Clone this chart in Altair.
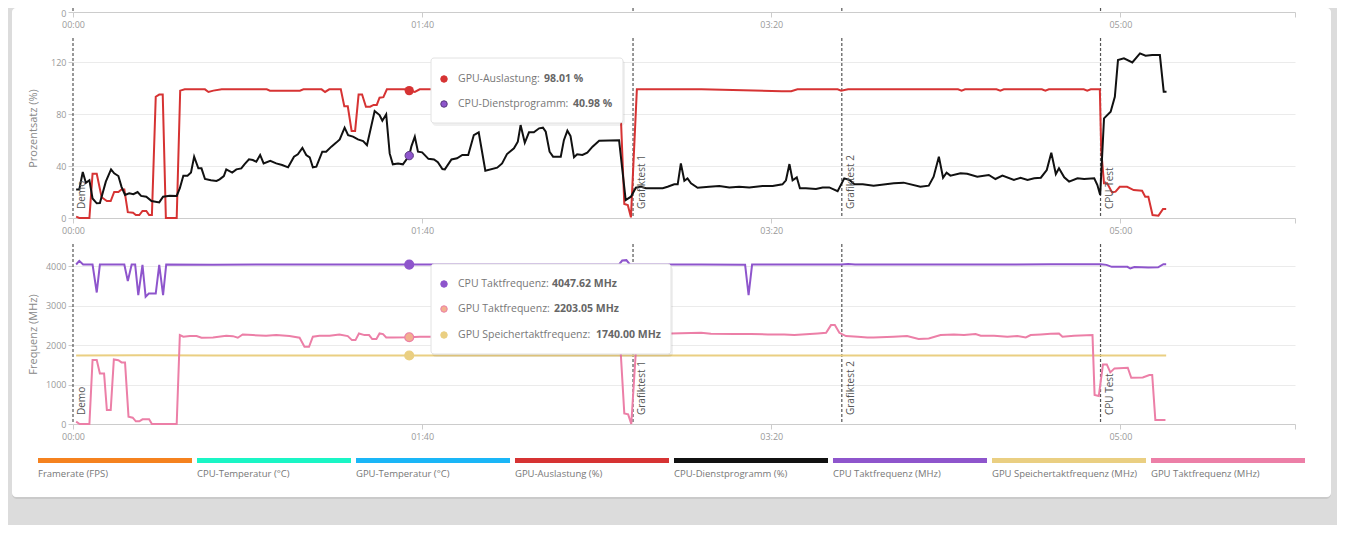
import altair as alt
import pandas as pd

FONT = "Open Sans"

# ---------------- data ----------------
series_names = ["Framerate (FPS)", "CPU-Temperatur (°C)", "GPU-Temperatur (°C)", "GPU-Auslastung (%)",
                "CPU-Dienstprogramm (%)", "CPU Taktfrequenz (MHz)", "GPU Speichertaktfrequenz (MHz)",
                "GPU Taktfrequenz (MHz)"]
series_colors = ["#f5821f", "#1af5c5", "#1ab6f7", "#d63333", "#111111", "#8e55cc", "#eacf82", "#ec7fa7"]

event_t = [0.0, 160.4, 220.2, 294.3]
event_label = ["Demo", "Grafiktest 1", "Grafiktest 2", "CPU Test"]

x_ticks = [0, 100, 200, 300, 350]
pct_grid = [0, 20, 40, 60, 80, 100, 120]
mhz_grid = [0, 500, 1000, 1500, 2000, 2500, 3000, 3500, 4000, 4500]

gpu_util_t = [0.9, 1.8, 4.7, 5.6, 6.8, 8.2, 9.7, 10.8, 11.8, 13, 13.9, 14.7, 15.7, 17.2, 18, 19, 19.9, 21, 21.8,
              22.6, 23.7, 24.7, 25.7, 26.6, 29.7, 30.7, 32, 37.8, 38.8, 40.2, 42.6, 55.5, 56.4, 65, 66, 71.2, 72.2,
              73.4, 76.7, 77.7, 78.7, 79.8, 80.8, 81.8, 82.8, 83.9, 85.1, 86.1, 87, 87.8, 88.9, 89.9, 95, 96.3,
              97.9, 99.3, 115, 130, 145, 156.6, 157.9, 158.9, 159.8, 161.5, 180, 203, 205.7, 207.5, 219, 220, 222,
              253.5, 254.5, 255.5, 264.5, 265.6, 266.6, 277.5, 278.5, 279.5, 289.5, 290.5, 291.5, 294.1, 294.5,
              295.3, 296.2, 297.6, 298.6, 299.8, 301.9, 303.8, 306.2, 307.1, 308, 309.2, 310.9, 312.2, 313.1]
gpu_util_v = [1, 0, 0, 34, 34, 16, 13, 13, 20, 20, 22, 22, 4.5, 4, 2.3, 2.3, 5.4, 5.4, 2.3,
              2.3, 93.3, 95, 95, 0, 0, 98, 99, 99, 97, 98, 99, 99, 98, 98, 99, 99, 97,
              99, 99, 86, 86, 67, 67, 95, 95, 85.6, 85.6, 87, 87, 92.6, 93, 99, 99, 98.01,
              97, 99, 99, 98.5, 99, 99, 10.8, 10, 0.5, 99, 99, 97.5, 97.5, 99, 99, 98, 99,
              99, 98, 99, 99, 98, 99, 99, 98, 99, 99, 98, 99, 99, 52,
              26.7, 26.7, 19.7, 20.3, 24, 24, 21.5, 21, 16.4, 16.4, 2.3, 1.8, 6.9, 6.9]

cpu_util_t = [0.9, 1.8, 2.8, 3.7, 4.7, 5.6, 6.8, 7.7, 9.4, 10.9, 11.8, 13, 13.9, 14.9, 16.1, 17.3, 18.5, 19.5, 21,
              22.5, 24.7, 25.8, 27.7, 29.7, 30.6, 31.6, 32.8, 33.8, 34.7, 35.9, 36.8, 37.8, 39.5, 41.1, 42, 43.2,
              43.9, 45.6, 46.8, 48.2, 49.1, 50.4, 51.5, 52.5, 53.6, 54.6, 56.5, 58.2, 59.9, 61.6, 63.3, 64.4, 65.7,
              66.8, 67.8, 68.7, 69.7, 71.4, 72.5, 74, 75.4, 76.4, 77.8, 78.8, 80.2, 81.6, 83.1, 84.2, 86.4, 87.8,
              88.6, 89.7, 90.7, 91.6, 93.1, 94.5, 96.3, 96.9, 97.9, 98.8, 100, 101.8, 103.4, 104.5, 105.8, 106.5,
              108.4, 110, 111.5, 113.2, 114.8, 116.2, 118.1, 121.5, 122.9, 124.3, 126.3, 127.4, 128.2, 129.4,
              130.6, 132, 133.5, 134.6, 135.4, 136.5, 137.5, 139.7, 140.6, 141.6, 142.5, 143.5, 144.4, 145.9,
              147.3, 148.8, 150.7, 156.4, 158.3, 159.8, 161.2, 162.7, 164.1, 168.9, 170.3, 172.2, 173.2, 174.1,
              175.1, 176, 177, 178.9, 182.2, 185.1, 188, 190.8, 193.7, 197.5, 200.4, 203.2, 204.2, 205.2, 206.1,
              207.3, 208.2, 209.9, 212.8, 214.7, 216.6, 219, 220.9, 222.4, 223.8, 226.2, 229.3, 235.1, 237.9,
              242.7, 245.1, 246.5, 248, 249.2, 250.2, 251.3, 254.2, 256.1, 259, 262.3, 264.2, 266.2, 269.5,
              271.4, 273.4, 275.3, 277.2, 278.9, 280.2, 281.5, 282.4, 283.9, 285.3, 287.7, 289.6, 292.5, 293.4,
              294.2, 295.3, 297.2, 298.4, 299.3, 301, 303.4, 305.6, 307.2, 309.1, 311.3, 312.4, 313.2]
cpu_util_v = [22, 22, 35.4, 27, 29, 15, 11.3, 11.5, 28, 37.4, 34.4, 32.3, 24, 17.7, 19, 18.3, 20, 17, 16.4,
              13, 12, 16.4, 17.2, 17, 22.9, 32.6, 32.6, 35, 47.2, 38.2, 38.2, 30, 29, 28.5, 29.7, 32.3,
              37.4, 35, 37.4, 38.2, 41.3, 45.1, 44.6, 43.3, 48.5, 42, 44, 42, 40.8, 39, 47.2, 49, 54,
              48.5, 46.7, 39, 39.5, 51, 51, 54.9, 58, 60.5, 69.5, 63.8, 62.6, 60.5, 59.2, 56, 82.3, 79.2,
              74.9, 79.7, 49.7, 41.3, 42, 41.3, 48, 54.9, 62.6, 51, 50.5, 45.5, 45, 43, 37.7, 37.4,
              45, 45.9, 48.5, 48.5, 63.8, 65.9, 36.4, 38.7, 42, 49.2, 53.6, 58.7, 71.5, 57.9,
              65.9, 65.9, 69, 69.5, 66.4, 51, 47.2, 47.2, 59.9, 67.2, 63, 46.7, 49, 48.5,
              50.3, 54.9, 59.5, 59.9, 13.8, 16.4, 23.3, 24, 22.9, 22.9, 24, 25.9, 25.9, 42,
              28.7, 30.5, 26.7, 23.3, 24, 24.6, 23.5, 24, 23.5, 24.6, 24.6, 25.9, 29, 41.5, 29,
              31.3, 22.9, 22.9, 22.3, 23.5, 23.5, 20.6, 30.5, 29.3, 25.9, 25.9, 24.9, 26.7, 27.2,
              24, 24.9, 31.8, 47.2, 31, 34.9, 32.6, 34.4, 34, 31.8, 33.1, 30, 32.6, 29.3,
              31, 29.3, 30.5, 31, 36.9, 50.3, 33.8, 38.2, 31.3, 28, 30.5, 30, 30.5, 25.4,
              17.7, 76.7, 81.8, 93.3, 121.5, 122.8, 119.7, 126.7, 124.9, 125.4, 125.4, 97.2, 97.2]

cpu_clock_t = [0.9, 1.8, 2.9, 5.6, 6.8, 7.7, 14.7, 15.7, 16.8, 17.8, 18.7, 19.9, 20.8, 21.7, 23.7, 24.7, 25.8,
               26.7, 40, 60, 80, 96.3, 120, 150, 156.4, 157.3, 158.5, 159.5, 180, 192.5, 193.5, 194.5, 220, 222,
               224, 260, 280, 294.4, 296, 297.5, 300, 302, 302.8, 304, 308, 310.8, 312.3, 313.1]
cpu_clock_v = [4049, 4142, 4049, 4049, 3339, 4049, 4049, 3627, 4049, 4049, 3271, 4040, 3229, 3313, 3313, 4040, 3271,
               4049, 4045, 4052, 4047, 4047.62, 4050, 4048, 4050, 4150, 4160, 4050, 4047, 4045, 3271, 4047, 4049, 4060,
               4047, 4050, 4055, 4055, 4040, 3990, 3995, 3990, 3948, 3985, 3973, 3980, 4058, 4058]

gpu_clock_t = [0.9, 1.9, 4.7, 5.6, 6.8, 7.7, 8.9, 9.7, 10.8, 11.7, 13, 13.9, 14.9, 15.9, 17.1, 18, 19, 19.9, 21.8,
               22.6, 29.7, 30.6, 31.6, 33.5, 35.4, 36.8, 40.1, 43.9, 45.8, 47.2, 48.6, 51.5, 55.3, 58.2, 62, 64.9,
               66.3, 67.6, 68.7, 70.6, 73.5, 76.3, 78.7, 79.9, 80.9, 81.9, 83.5, 84.8, 85.7, 86.9, 87.8, 88.8, 89.7,
               91.6, 96.3, 99.3, 102.2, 110, 130, 150, 156.6, 157.9, 159, 159.9, 161.5, 165, 171.2, 179.9, 182.7,
               189.4, 194.2, 199, 203.7, 206.6, 213.3, 215.7, 217.1, 218.2, 219.5, 221.4, 224.8, 227.5, 229.3, 235,
               238.9, 242.2, 245.1, 248.5, 252.3, 255.2, 258.5, 260, 263.8, 267.6, 270.5, 272.9, 274.3, 277.2, 280,
               282.4, 283.4, 286.7, 292, 292.6, 293.8, 295, 296.1, 297.1, 298.3, 302.1, 303.1, 306.4, 308.3, 309.1,
               310, 312.9]
gpu_clock_v = [59, 0, 0, 1623, 1623, 1285, 1285, 355, 355, 1640, 1620, 1564, 1564, 186, 160, 68, 68, 118, 118,
               0, 0, 2257, 2215, 2232, 2232, 2190, 2198, 2240, 2230, 2190, 2274, 2257, 2240, 2257, 2232, 2190,
               1961, 1961, 2215, 2240, 2240, 2274, 2232, 2130, 2130, 2299, 2257, 2257, 2156, 2156, 2299, 2282, 2198,
               2198, 2203.05, 2215, 2215, 2230, 2220, 2225, 2230, 270, 245, 0, 2250, 2290, 2299, 2316, 2290,
               2282, 2282, 2274, 2274, 2257, 2299, 2316, 2511, 2511, 2316, 2232, 2215, 2198, 2198, 2215,
               2232, 2156, 2173, 2257, 2274, 2257, 2282, 2240, 2240, 2215, 2232, 2198, 2257, 2274, 2290,
               2299, 2215, 2240, 2257, 735, 710, 1513, 1513, 1310, 1412, 1428, 1175, 1180, 1243, 1243,
               101, 101]

mem_clock_t = [0.9, 20, 40, 60, 96.3, 140, 180, 220, 260, 300, 313.1]
mem_clock_v = [1740, 1745, 1738, 1742, 1740, 1740, 1742, 1738, 1741, 1738, 1740]

hover_t = 96.3
hover_pct = [98.01, 48.0]            # GPU-Auslastung, CPU-Dienstprogramm (marker positions)
hover_mhz = [4047.62, 2203.05, 1740.0]

tip1_labels = ["GPU-Auslastung:", "CPU-Dienstprogramm:"]
tip1_values = ["98.01 %", "40.98 %"]
tip2_labels = ["CPU Taktfrequenz:", "GPU Taktfrequenz:", "GPU Speichertaktfrequenz:"]
tip2_values = ["4047.62 MHz", "2203.05 MHz", "1740.00 MHz"]

# ---------------- geometry / style ----------------
W = 1222
H_TOP = 2
H_MID = 180
H_BOT = 180
H_LEG = 40
SPACING = 26

MMSS = ("datum.value > 340 ? '' : "
        "(floor(datum.value/60) < 10 ? '0' : '') + floor(datum.value/60) + ':' + "
        "(datum.value % 60 < 10 ? '0' : '') + (datum.value % 60)")
XS = alt.Scale(domain=[0, 350], nice=False, zero=False)
COLOR = alt.Color("series:N", scale=alt.Scale(domain=series_names, range=series_colors), legend=None)


def x_axis(**kw):
    return alt.Axis(values=x_ticks, labelExpr=MMSS, grid=False, domainColor="#cccccc", tickColor="#cccccc",
                    tickSize=5, labelColor="#999999", labelFont=FONT, labelFontSize=9, labelPadding=3,
                    labelFlush=False, title=None, **kw)


def y_axis(grid_vals, step, title, h):
    test = f"datum.value % {step} === 0"
    return alt.Axis(values=grid_vals, grid=True, gridColor="#ebebeb", domain=False,
                    tickColor={"condition": {"test": test, "value": "#cccccc"}, "value": "transparent"},
                    labelExpr=f"{test} ? datum.label : ''", format="d", tickSize=5, labelPadding=2,
                    labelColor="#999999", labelFont=FONT, labelFontSize=9, labelFlush=False,
                    title=title, titleX=-40, titleY=h / 2, titleAngle=270, titleAlign="center",
                    titleBaseline="middle", titleColor="#888888", titleFont=FONT, titleFontSize=11,
                    titleFontWeight="normal")


def frame(name, ts, vs):
    return pd.DataFrame({"t": ts, "v": vs, "series": name})


one = pd.DataFrame({"a": [1]})
events = pd.DataFrame({"t": event_t, "label": event_label})


def event_layers(h):
    rules = alt.Chart(events).mark_rule(color="#555555", strokeDash=[3, 2], strokeWidth=1.2).encode(
        x=alt.X("t:Q", scale=XS))
    texts = alt.Chart(events).mark_text(angle=270, align="left", baseline="top", dy=4, font=FONT,
                                        fontSize=10, color="#555555").encode(
        x=alt.X("t:Q", scale=XS), y=alt.value(h - 9), text="label:N")
    return [rules, texts]


def tooltip_layers(box, row_y, labels, values, value_x, fills, strokes):
    x0, y0, x1, y1 = box
    layers = [
        alt.Chart(one).mark_rect(fill="#000000", opacity=0.06, cornerRadius=4).encode(
            x=alt.value(x0 + 1), x2=alt.value(x1 + 2), y=alt.value(y0 + 2), y2=alt.value(y1 + 3)),
        alt.Chart(one).mark_rect(fill="white", stroke="#e2e2e2", strokeWidth=1, cornerRadius=3).encode(
            x=alt.value(x0), x2=alt.value(x1), y=alt.value(y0), y2=alt.value(y1)),
    ]
    for i in range(len(labels)):
        layers.append(alt.Chart(one).mark_circle(size=42, opacity=1, fill=fills[i], stroke=strokes[i],
                                                 strokeWidth=1).encode(x=alt.value(x0 + 13), y=alt.value(row_y[i])))
        layers.append(alt.Chart(one).mark_text(text=labels[i], align="left", baseline="middle", font=FONT,
                                               fontSize=10.5, color="#777777").encode(
            x=alt.value(x0 + 27), y=alt.value(row_y[i])))
        layers.append(alt.Chart(one).mark_text(text=values[i], align="left", baseline="middle", font=FONT,
                                               fontSize=10.5, fontWeight="bold", color="#666666").encode(
            x=alt.value(value_x[i]), y=alt.value(row_y[i])))
    return layers


# ---------------- top (cut-off) panel with white card ----------------
top_dummy = pd.DataFrame({"t": [0], "v": [0]})
card_shadow = alt.Chart(one).mark_rect(fill="#000000", opacity=0.08, cornerRadius=5).encode(
    x=alt.value(-61), x2=alt.value(1258), y=alt.value(0), y2=alt.value(489))
card = alt.Chart(one).mark_rect(fill="white", cornerRadius=4).encode(
    x=alt.value(-61), x2=alt.value(1258), y=alt.value(-2), y2=alt.value(487))
top_axes = alt.Chart(top_dummy).mark_point(opacity=0).encode(
    x=alt.X("t:Q", scale=XS, axis=x_axis(zindex=1)),
    y=alt.Y("v:Q", scale=alt.Scale(domain=[0, 1], nice=False),
            axis=alt.Axis(values=[0], grid=False, domain=False, tickColor="#cccccc", tickSize=5, labelPadding=2,
                          labelColor="#999999", labelFont=FONT, labelFontSize=9, labelOffset=1, title=None,
                          labelFlush=False, zindex=1)))
top_rules = alt.Chart(events).mark_rule(color="#555555", strokeDash=[3, 2], strokeWidth=1.2).encode(
    x=alt.X("t:Q", scale=XS), y=alt.value(-2), y2=alt.value(H_TOP))
top = alt.layer(card_shadow, card, top_axes, top_rules).properties(width=W, height=H_TOP)

# ---------------- middle panel (percent) ----------------
YP = alt.Scale(domain=[0, 138.5], nice=False)
red = alt.Chart(frame("GPU-Auslastung (%)", gpu_util_t, gpu_util_v)).mark_line(strokeWidth=2).encode(
    x=alt.X("t:Q", scale=XS, axis=x_axis()),
    y=alt.Y("v:Q", scale=YP, axis=y_axis(pct_grid, 40, "Prozentsatz (%)", H_MID)), color=COLOR)
black = alt.Chart(frame("CPU-Dienstprogramm (%)", cpu_util_t, cpu_util_v)).mark_line(strokeWidth=2).encode(
    x=alt.X("t:Q", scale=XS), y=alt.Y("v:Q", scale=YP), color=COLOR)
hp = pd.DataFrame({"t": [hover_t, hover_t], "v": hover_pct})
hover_red = alt.Chart(hp.iloc[[0]]).mark_circle(size=85, opacity=1, color="#d63333").encode(
    x=alt.X("t:Q", scale=XS), y=alt.Y("v:Q", scale=YP))
hover_cpu = alt.Chart(hp.iloc[[1]]).mark_circle(size=70, opacity=1, fill="#8e55cc", stroke="#5a3a80",
                                                 strokeWidth=1).encode(
    x=alt.X("t:Q", scale=XS), y=alt.Y("v:Q", scale=YP))
mid = alt.layer(
    event_layers(H_MID)[0], red, black, event_layers(H_MID)[1], hover_red, hover_cpu,
    *tooltip_layers((358, 20, 550, 85), [41, 66], tip1_labels, tip1_values, [471, 500],
                    ["#d63333", "#8e55cc"], ["#d63333", "#5a3a80"])
).properties(width=W, height=H_MID)

# ---------------- bottom panel (MHz) ----------------
YM = alt.Scale(domain=[0, 4570], nice=False)
yellow = alt.Chart(frame("GPU Speichertaktfrequenz (MHz)", mem_clock_t, mem_clock_v)).mark_line(
    strokeWidth=2).encode(
    x=alt.X("t:Q", scale=XS, axis=x_axis()),
    y=alt.Y("v:Q", scale=YM, axis=y_axis(mhz_grid, 1000, "Frequenz (MHz)", H_BOT)), color=COLOR)
pink = alt.Chart(frame("GPU Taktfrequenz (MHz)", gpu_clock_t, gpu_clock_v)).mark_line(strokeWidth=2).encode(
    x=alt.X("t:Q", scale=XS), y=alt.Y("v:Q", scale=YM), color=COLOR)
purple = alt.Chart(frame("CPU Taktfrequenz (MHz)", cpu_clock_t, cpu_clock_v)).mark_line(strokeWidth=2).encode(
    x=alt.X("t:Q", scale=XS), y=alt.Y("v:Q", scale=YM), color=COLOR)
hm = pd.DataFrame({"t": [hover_t] * 3, "v": hover_mhz})
hover_fill = ["#8e55cc", "#f2b08f", "#eacf82"]
hover_stroke = ["#8e55cc", "#ec7fa7", "#eacf82"]
hover_m = [alt.Chart(hm.iloc[[i]]).mark_circle(size=80, opacity=1, fill=hover_fill[i], stroke=hover_stroke[i],
                                               strokeWidth=1.2).encode(
    x=alt.X("t:Q", scale=XS), y=alt.Y("v:Q", scale=YM)) for i in range(3)]
bot = alt.layer(
    event_layers(H_BOT)[0], yellow, pink, purple, event_layers(H_BOT)[1], *hover_m,
    *tooltip_layers((358, 20, 598, 110), [40, 65, 91], tip2_labels, tip2_values, [479, 481, 523],
                    hover_fill, hover_stroke)
).properties(width=W, height=H_BOT)

# ---------------- legend row ----------------
leg_df = pd.DataFrame({"series": series_names})
LX = alt.Scale(domain=series_names, range=[-35, 1232], paddingInner=0.0314, paddingOuter=0)
leg_bars = alt.Chart(leg_df).mark_rect().encode(
    x=alt.X("series:N", sort=series_names, scale=LX, axis=None),
    y=alt.value(8), y2=alt.value(13), color=COLOR)
leg_text = alt.Chart(leg_df).mark_text(align="left", baseline="middle", font=FONT, fontSize=9.5,
                                       color="#777777").encode(
    x=alt.X("series:N", sort=series_names, scale=LX, axis=None, bandPosition=0),
    y=alt.value(24), text="series:N")
legend = alt.layer(leg_bars, leg_text).properties(width=W, height=H_LEG)

chart = alt.vconcat(top, mid, bot, legend, spacing=SPACING, bounds="flush").resolve_scale(
    x="independent", y="independent").properties(
    padding={"left": 4, "top": -1, "right": 6, "bottom": 26}, background="#dcdcdc"
).configure(font=FONT, view=alt.ViewConfig(stroke="transparent", strokeWidth=0))

chart.save("out.html", embed_options={"renderer": "svg", "actions": False})
